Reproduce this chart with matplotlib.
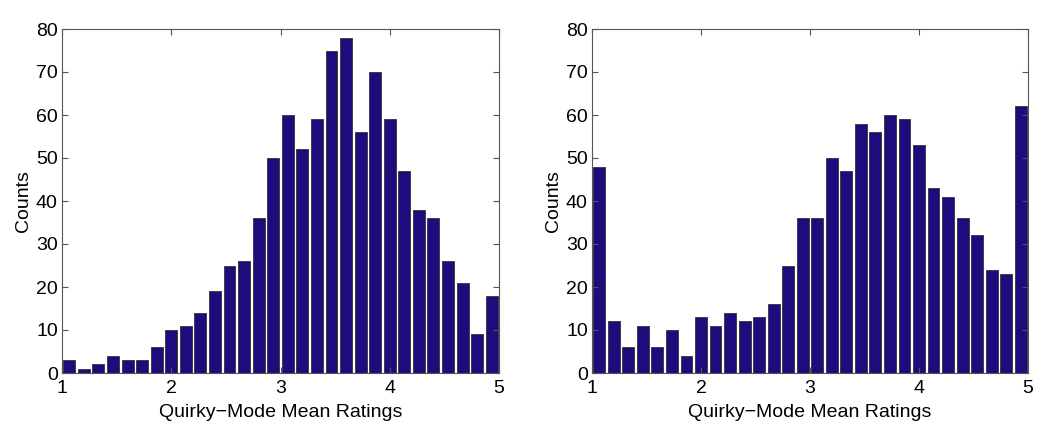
import numpy as np
import matplotlib
matplotlib.use("Agg")
from matplotlib import pyplot as plt

plt.rcParams['font.family'] = ['Liberation Sans', 'DejaVu Sans']

# 30 equal-width bins between 1 and 5
bin_lo = 1.0
bin_hi = 5.0
counts_left = [3, 1, 2, 4, 3, 3, 6, 10, 11, 14, 19, 25, 26, 36, 50,
               60, 52, 59, 75, 78, 56, 70, 59, 47, 38, 36, 26, 21, 9, 18]
counts_right = [48, 12, 6, 11, 6, 10, 4, 13, 11, 14, 12, 13, 16, 25, 36,
                36, 50, 47, 58, 56, 60, 59, 53, 43, 41, 36, 32, 24, 23, 62]
x_ticks = [1, 2, 3, 4, 5]
y_ticks = [0, 10, 20, 30, 40, 50, 60, 70, 80]
xlabel = "Quirky\u2212Mode Mean Ratings"
ylabel = "Counts"

bar_color = "#1c0c7e"

fig = plt.figure(figsize=(10.5, 4.32), dpi=100)
W, H = 1050.0, 432.0
boxes = [(62, 29, 499, 373), (592, 29, 1028, 373)]

for (l, t, r, b), counts in zip(boxes, [counts_left, counts_right]):
    ax = fig.add_axes([l / W, 1 - b / H, (r - l) / W, (b - t) / H])
    n = len(counts)
    w = (bin_hi - bin_lo) / n
    centers = bin_lo + w * (np.arange(n) + 0.5)
    ax.bar(centers, counts, width=w * 0.82, color=bar_color,
           edgecolor="#333333", linewidth=0.6)
    ax.set_xlim(bin_lo, bin_hi)
    ax.set_ylim(0, 80)
    ax.set_xticks(x_ticks)
    ax.set_yticks(y_ticks)
    ax.tick_params(direction="in", top=True, right=True, length=4,
                   labelsize=14, color="#555555", width=0.8, pad=5)
    ax.tick_params(axis="y", pad=3)
    for s in ax.spines.values():
        s.set_color("#555555")
        s.set_linewidth(0.8)
    ax.set_xlabel(xlabel, fontsize=14, labelpad=5)
    ax.set_ylabel(ylabel, fontsize=14, labelpad=3)

fig.savefig("out.png", dpi=100)
